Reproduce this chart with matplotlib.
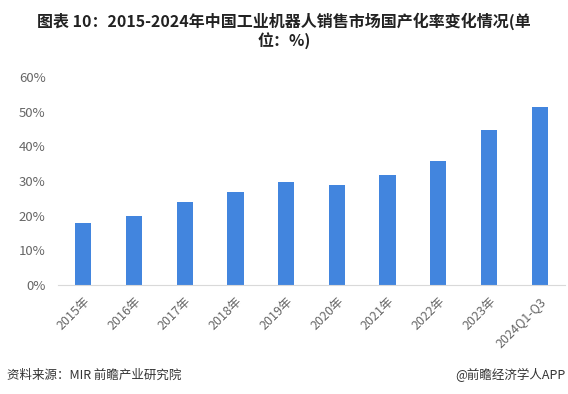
import matplotlib.pyplot as plt
import numpy as np

plt.rcParams['font.family'] = ['Noto Sans CJK SC', 'DejaVu Sans']

categories = ['2015年', '2016年', '2017年', '2018年', '2019年', '2020年',
              '2021年', '2022年', '2023年', '2024Q1-Q3']
rates = [17.8, 19.9, 24.0, 26.9, 29.8, 28.9, 31.8, 35.8, 44.8, 51.4]
yticks = [0, 10, 20, 30, 40, 50, 60]

fig = plt.figure(figsize=(5.68, 3.94), dpi=100)
ax = fig.add_axes([58 / 568, 1 - 285 / 394, (565 - 58) / 568, (285 - 77) / 394])

x = np.arange(len(categories))
ax.bar(x, rates, width=0.32, color='#4285DE', zorder=2)

ax.set_xlim(-0.5, len(categories) - 0.5)
ax.set_ylim(0, 60)
ax.set_yticks(yticks)
ax.set_yticklabels([f'{v}%' for v in yticks], fontsize=9.5, color='#666666')
ax.set_xticks(x)
ax.set_xticklabels(categories, rotation=45, ha='right', rotation_mode='anchor',
                   fontsize=9, color='#666666')
ax.tick_params(axis='both', length=0)
ax.tick_params(axis='y', pad=9)
ax.tick_params(axis='x', pad=7)

for side in ['top', 'right', 'left']:
    ax.spines[side].set_visible(False)
ax.spines['bottom'].set_color('#D9D9D9')

fig.text(0.5, 0.947, '图表 10：2015-2024年中国工业机器人销售市场国产化率变化情况(单',
         ha='center', va='center', fontsize=11.5, fontweight='bold', color='#222222')
fig.text(0.5, 0.898, '位：%)', ha='center', va='center', fontsize=11.5,
         fontweight='bold', color='#222222')

fig.text(7 / 568, 1 - 375 / 394, '资料来源：MIR 前瞻产业研究院', ha='left', va='center',
         fontsize=9, color='#333333')
fig.text(566 / 568, 1 - 375 / 394, '@前瞻经济学人APP', ha='right', va='center',
         fontsize=9, color='#333333')

fig.savefig('out.png', dpi=100)
